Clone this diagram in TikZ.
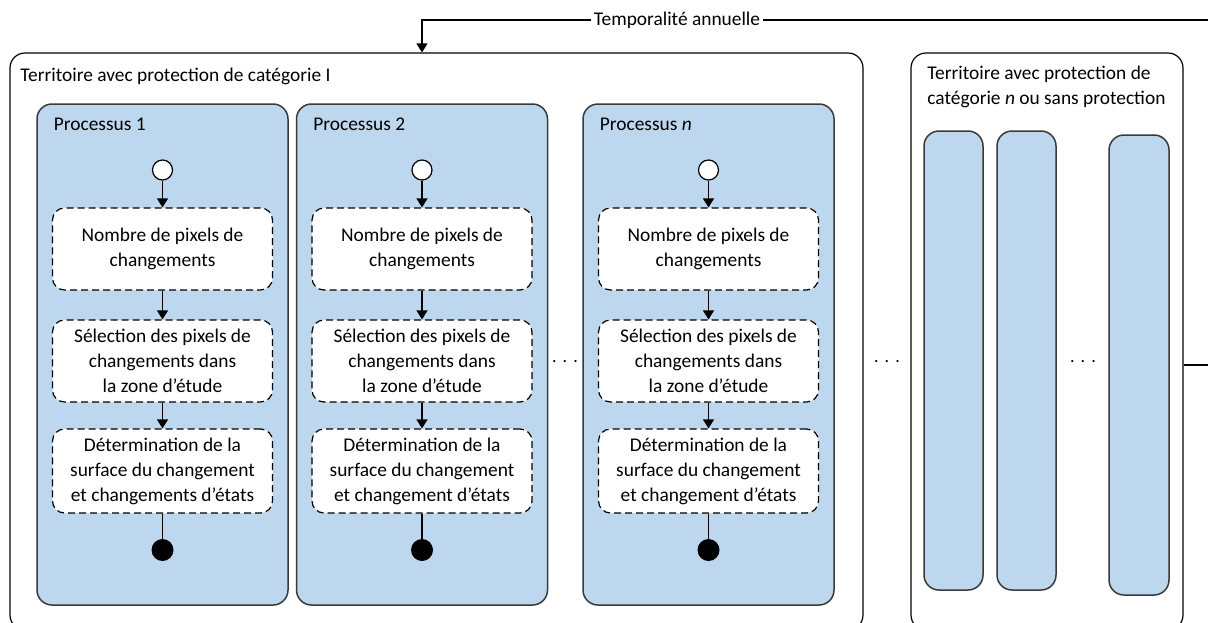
\documentclass[tikz,border=0pt]{standalone}
\usepackage{fontspec}
\setmainfont{Carlito}
\usetikzlibrary{arrows.meta,calc}
\definecolor{procblue}{HTML}{BDD7EE}
\definecolor{procedge}{HTML}{3A3A3A}
\tikzset{
  territory/.style={draw=black, line width=0.6pt, rounded corners=7.5pt, inner sep=0pt, fill=white},
  procbox/.style={draw=procedge, line width=0.75pt, fill=procblue, rounded corners=7.5pt, inner sep=0pt},
  stepbox/.style={draw=black, line width=0.6pt, dash pattern=on 3.5pt off 2pt, fill=white, rounded corners=6pt,
    minimum width=110pt, minimum height=41pt, inner sep=0pt, align=center},
  startdot/.style={circle, draw=black, line width=0.6pt, fill=white, minimum size=10pt, inner sep=0pt},
  enddot/.style={circle, fill=black, minimum size=11pt, inner sep=0pt},
  flow/.style={line width=0.6pt, -{Triangle[width=5.5pt,length=4.5pt]}},
  plain/.style={line width=0.6pt},
  dots/.style={inner sep=0pt, font=\small},
  title/.style={inner sep=0pt, anchor=base west, align=left}
}
\begin{document}
\begin{tikzpicture}[x=0.5pt,y=-0.5pt, every node/.style={font=\fontsize{9.7}{12.5}\selectfont}]
\useasboundingbox (0,0) rectangle (1208,622);
\clip (0,0) rectangle (1208,622);
\fill[white] (0,0) rectangle (1208,622);

% territories
\node[territory, minimum width=426.5pt, minimum height=288.5pt] (t1) at (436.5,341.5) {};
\node[territory, minimum width=136pt, minimum height=288.5pt] (rt) at (1047,341.5) {};
\node[title] (t1title) at (20,81) {Territoire avec protection de catégorie I};
\node[inner sep=0pt, anchor=north west, align=left] (rttitle) at (927,66) {Territoire avec protection de\\catégorie \textit{n} ou sans protection};

% processes
\foreach \nm/\cx/\lab in {p1/162.5/1, p2/422/2, pn/708.5/\textit{n}}{
  \node[procbox, minimum width=125.5pt, minimum height=250.5pt] (\nm) at (\cx,354.5) {};
  \node[title] (\nm title) at ($(\cx,130)+(-109,0)$) {Processus \lab};
  \node[startdot] (\nm s) at (\cx,170) {};
  \node[stepbox] (\nm a) at (\cx,249) {Nombre de pixels de\\changements};
  \node[stepbox] (\nm b) at (\cx,361) {Sélection des pixels de\\changements dans\\la zone d’étude};
  \node[enddot] (\nm e) at (\cx,550) {};
  \draw[flow] (\nm s) -- (\nm a);
  \draw[flow] (\nm a) -- (\nm b);
}
\node[stepbox, minimum height=42pt] (p1c) at (162.5,471) {Détermination de la\\surface du changement\\et changements d’états};
\node[stepbox, minimum height=42pt] (p2c) at (422,471) {Détermination de la\\surface du changement\\et changement d’états};
\node[stepbox, minimum height=42pt] (pnc) at (708.5,471) {Détermination de la\\surface du changement\\et changement d’états};
\foreach \nm in {p1,p2,pn}{
  \draw[flow] (\nm b) -- (\nm c);
  \draw[plain] (\nm c) -- (\nm e);
}

% right territory columns
\node[procbox, minimum width=29.5pt, minimum height=229.5pt] (r1) at (953.5,360.5) {};
\node[procbox, minimum width=29.5pt, minimum height=229.5pt] (r2) at (1026.5,360.5) {};
\node[procbox, minimum width=30pt, minimum height=230pt] (r3) at (1139,365) {};

% ellipses
\node[dots] (d1) at (565,362) {.\,\,.\,\,.};
\node[dots] (d2) at (887,362) {.\,\,.\,\,.};
\node[dots] (d3) at (1083,362) {.\,\,.\,\,.};

% annual loop
\coordinate (c1) at (1240,365);
\coordinate (c2) at (1240,20);
\coordinate (c3) at (422,20);
\draw[flow] (rt.east |- c1) -- (c1) -- (c2) -- (c3) -- (t1.north -| c3);
\node[fill=white, inner sep=1.5pt] (lab) at (677,20) {Temporalité annuelle};
\end{tikzpicture}
\end{document}
